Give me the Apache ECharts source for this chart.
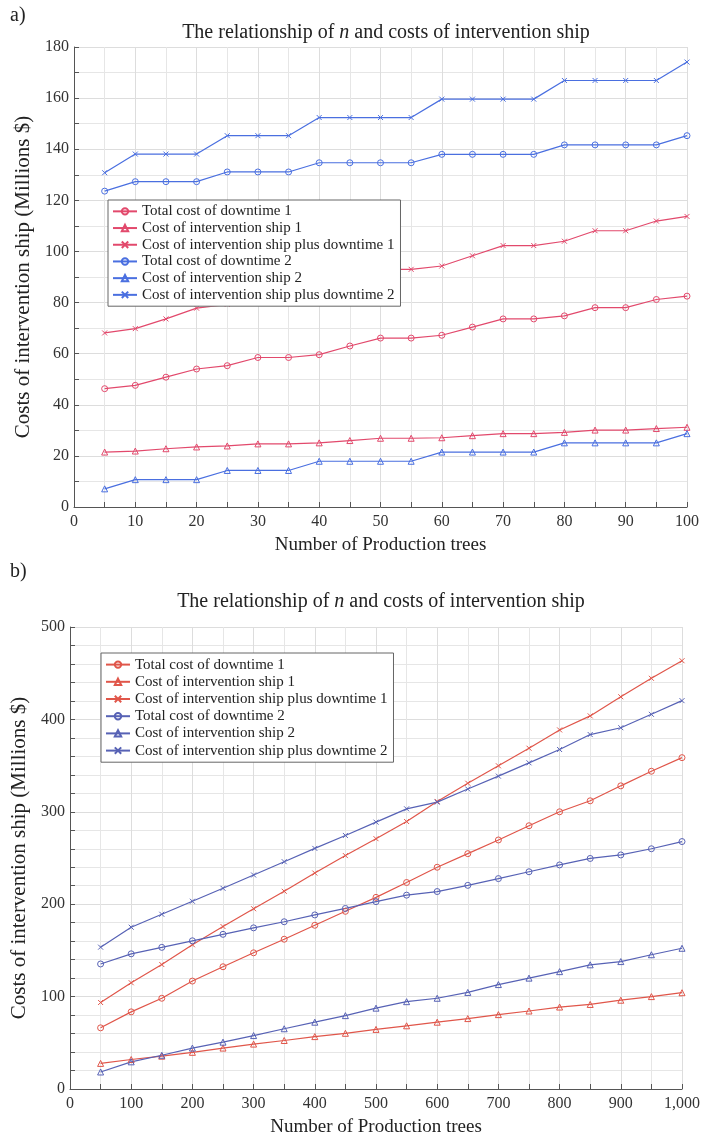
<!DOCTYPE html>
<html>
<head>
<meta charset="utf-8">
<script src="https://cdn.jsdelivr.net/npm/echarts@6/dist/echarts.min.js"></script>
<style>
  html, body { margin: 0; padding: 0; background: #fff; }
  #chartA { position: absolute; left: 0; top: 0; width: 717px; height: 560px; }
  #chartB { position: absolute; left: 0; top: 560px; width: 717px; height: 582px; }
</style>
</head>
<body>
<div id="chartA"></div>
<div id="chartB"></div>
<script>
// ---- data, panel a ----
const xA = [5, 10, 15, 20, 25, 30, 35, 40, 45, 50, 55, 60, 65, 70, 75, 80, 85, 90, 95, 100];
const aTotalDown1 = [46.3, 47.6, 50.8, 54.0, 55.3, 58.5, 58.5, 59.6, 63.0, 66.1, 66.1, 67.2, 70.4, 73.6, 73.6, 74.8, 78.0, 78.0, 81.2, 82.5];
const aShip1 = [21.5, 21.9, 22.8, 23.5, 23.9, 24.7, 24.7, 25.1, 26.0, 26.9, 26.9, 27.1, 27.9, 28.7, 28.7, 29.2, 30.1, 30.1, 30.7, 31.2];
const aPlus1 = [68.1, 69.8, 73.6, 77.8, 79.3, 83.2, 83.2, 84.7, 89.0, 93.0, 93.0, 94.3, 98.3, 102.3, 102.3, 104.0, 108.1, 108.1, 111.9, 113.7];
const aTotalDown2 = [123.6, 127.3, 127.3, 127.3, 131.1, 131.1, 131.1, 134.7, 134.7, 134.7, 134.7, 138.0, 138.0, 138.0, 138.0, 141.7, 141.7, 141.7, 141.7, 145.3];
const aShip2 = [7.1, 10.7, 10.7, 10.7, 14.3, 14.3, 14.3, 17.9, 17.9, 17.9, 17.9, 21.5, 21.5, 21.5, 21.5, 25.1, 25.1, 25.1, 25.1, 28.7];
const aPlus2 = [130.8, 138.1, 138.1, 138.1, 145.3, 145.3, 145.3, 152.4, 152.4, 152.4, 152.4, 159.6, 159.6, 159.6, 159.6, 166.9, 166.9, 166.9, 166.9, 174.1];

// ---- data, panel b ----
const xB = [50, 100, 150, 200, 250, 300, 350, 400, 450, 500, 550, 600, 650, 700, 750, 800, 850, 900, 950, 1000];
const bTotalDown1 = [66.2, 83.5, 98.2, 116.8, 132.3, 147.4, 162.1, 177.2, 192.3, 207.4, 223.5, 240.0, 254.7, 269.5, 284.9, 300.0, 311.9, 328.1, 343.9, 358.6];
const bShip1 = [27.7, 31.9, 35.5, 39.7, 44.3, 48.6, 52.5, 56.7, 60.3, 64.5, 68.4, 72.3, 76.2, 80.5, 84.4, 88.7, 91.5, 96.1, 100.0, 104.2];
const bPlus1 = [93.6, 115.0, 134.7, 156.1, 175.8, 195.1, 214.0, 233.7, 252.6, 270.9, 289.5, 311.2, 330.9, 349.8, 368.8, 388.6, 403.8, 424.5, 444.5, 463.5];
const bTotalDown2 = [135.3, 146.3, 153.3, 160.4, 167.4, 174.4, 181.0, 188.4, 195.4, 202.8, 209.8, 213.7, 220.4, 227.7, 235.1, 242.5, 249.5, 253.3, 260.0, 267.8];
const bShip2 = [18.4, 29.4, 36.5, 44.3, 50.7, 57.8, 65.2, 72.3, 79.4, 87.5, 94.5, 98.2, 104.5, 113.0, 120.0, 127.0, 134.4, 137.9, 145.3, 152.3];
const bPlus2 = [153.5, 175.1, 189.1, 203.2, 217.2, 231.6, 246.0, 260.4, 274.4, 288.8, 303.2, 310.5, 324.6, 338.6, 353.0, 367.4, 383.6, 391.0, 405.5, 420.3];

const names = [
    'Total cost of downtime 1',
    'Cost of intervention ship 1',
    'Cost of intervention ship plus downtime 1',
    'Total cost of downtime 2',
    'Cost of intervention ship 2',
    'Cost of intervention ship plus downtime 2'
];

const FONT = '"Liberation Serif", "DejaVu Serif", serif';
const CROSS = 'path://M0,0L10,10M10,0L0,10';
const symbols = ['circle', 'triangle', CROSS, 'circle', 'triangle', CROSS];

function makeSeries(xs, ys, name, color, symbol) {
    return {
        type: 'line',
        name: name,
        data: xs.map((x, i) => [x, ys[i]]),
        symbol: symbol,
        symbolSize: symbol === CROSS ? 5 : 6,
        showAllSymbol: true,
        lineStyle: { color: color, width: 1.2 },
        itemStyle: { color: 'rgba(255,255,255,0)', borderColor: color, borderWidth: 1 },
        emphasis: { disabled: true },
        z: 3
    };
}

function buildOption(cfg) {
    return {
        animation: false,
        textStyle: { fontFamily: FONT },
        title: {
            text: '{r|The relationship of }{i|n}{r| and costs of intervention ship}',
            left: cfg.titleX,
            top: cfg.titleY,
            textAlign: 'center',
            textStyle: {
                fontWeight: 'normal',
                rich: {
                    r: { fontFamily: FONT, fontSize: 20, color: '#222', fontWeight: 'normal' },
                    i: { fontFamily: FONT, fontSize: 20, color: '#222', fontWeight: 'normal', fontStyle: 'italic' }
                }
            }
        },
        graphic: [{
            type: 'text',
            left: 10,
            top: cfg.tagY,
            style: { text: cfg.tag, font: '20px ' + FONT, fill: '#222' }
        }],
        legend: {
            orient: 'vertical',
            left: cfg.legendX,
            top: cfg.legendY,
            data: names,
            itemWidth: 24,
            itemHeight: 8,
            itemGap: 0,
            padding: [3, 6, 3, 4],
            backgroundColor: '#fff',
            borderColor: '#666',
            borderWidth: 1,
            textStyle: { fontFamily: FONT, fontSize: 15, color: '#222', lineHeight: cfg.legendRow },
            z: 10
        },
        grid: cfg.grid,
        xAxis: {
            type: 'value',
            min: 0,
            max: cfg.xMax,
            interval: cfg.xInterval,
            name: 'Number of Production trees',
            nameLocation: 'middle',
            nameGap: 29,
            nameTextStyle: { fontFamily: FONT, fontSize: 19, color: '#222' },
            axisLine: { show: true, lineStyle: { color: '#555' } },
            axisTick: { show: true, inside: true, length: 5, lineStyle: { color: '#555' } },
            minorTick: { show: true, splitNumber: 2, length: 5, lineStyle: { color: '#555' } },
            axisLabel: {
                fontFamily: FONT, fontSize: 16, color: '#333', margin: 7,
                formatter: v => v.toLocaleString('en-US')
            },
            splitLine: { show: true, lineStyle: { color: '#dddddd' } },
            minorSplitLine: { show: true, lineStyle: { color: '#e6e6e6' } }
        },
        yAxis: {
            type: 'value',
            min: 0,
            max: cfg.yMax,
            interval: cfg.yInterval,
            name: 'Costs of intervention ship (Millions $)',
            nameLocation: 'middle',
            nameGap: cfg.yNameGap,
            nameTextStyle: { fontFamily: FONT, fontSize: 21, color: '#222' },
            axisLine: { show: true, lineStyle: { color: '#555' } },
            axisTick: { show: true, inside: true, length: 5, lineStyle: { color: '#555' } },
            minorTick: { show: true, splitNumber: cfg.yMinor, length: 5, lineStyle: { color: '#555' } },
            axisLabel: { fontFamily: FONT, fontSize: 16, color: '#333', margin: 5 },
            splitLine: { show: true, lineStyle: { color: '#dddddd' } },
            minorSplitLine: { show: true, lineStyle: { color: '#e6e6e6' } }
        },
        series: cfg.series
    };
}

// panel a
const redA = '#e2496c';
const blueA = '#4a6fe0';
const ysA = [aTotalDown1, aShip1, aPlus1, aTotalDown2, aShip2, aPlus2];
const chartA = echarts.init(document.getElementById('chartA'));
chartA.setOption(buildOption({
    tag: 'a)', tagY: 6,
    titleX: 381, titleY: 18,
    legendX: 108, legendY: 200, legendRow: 16.7,
    grid: { left: 74, right: 30, top: 47, bottom: 46 },
    xMax: 100, xInterval: 10,
    yMax: 180, yInterval: 20, yMinor: 2, yNameGap: 33,
    series: ysA.map((ys, i) => makeSeries(xA, ys, names[i], i < 3 ? redA : blueA, symbols[i]))
}));

// panel b
const redB = '#e0564a';
const blueB = '#5762b5';
const ysB = [bTotalDown1, bShip1, bPlus1, bTotalDown2, bShip2, bPlus2];
const chartB = echarts.init(document.getElementById('chartB'));
chartB.setOption(buildOption({
    tag: 'b)', tagY: 2,
    titleX: 376, titleY: 27,
    legendX: 101, legendY: 93, legendRow: 17.2,
    grid: { left: 70, right: 35, top: 67, bottom: 48 },
    xMax: 1000, xInterval: 100,
    yMax: 500, yInterval: 100, yMinor: 5, yNameGap: 33,
    series: ysB.map((ys, i) => makeSeries(xB, ys, names[i], i < 3 ? redB : blueB, symbols[i]))
}));
</script>
</body>
</html>
